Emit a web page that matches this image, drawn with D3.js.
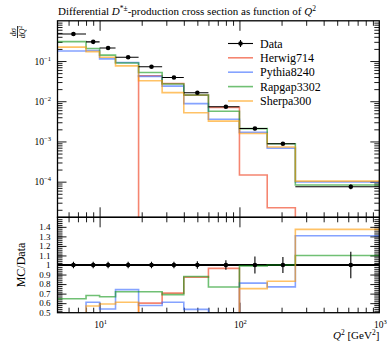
<!DOCTYPE html>
<html><head><meta charset="utf-8">
<script src="https://cdn.jsdelivr.net/npm/d3@7/dist/d3.min.js"></script>
<style>
body{margin:0;background:#fff}
svg{display:block}
text{font-family:"Liberation Serif","DejaVu Serif",serif;fill:#000}
</style>
</head><body>
<svg id="c" width="387" height="343"></svg>
<script>
// ---------- data ----------
const binEdges   = [5, 8, 10, 13, 19, 28, 40, 60, 100, 158, 251, 1000];
const dataValues = [0.47, 0.30, 0.21, 0.124, 0.072, 0.039, 0.0163, 0.0073, 0.0021, 0.00088, 0.000075];
const dataRelErr = [0.035, 0.035, 0.035, 0.035, 0.035, 0.035, 0.04, 0.05, 0.09, 0.085, 0.14];
const herwig714  = [0, 0, 0, 0, 0.0432, 0.0275, 0.0142, 0.00704, 0.000146, 0.0000224, 0];
const pythia8240 = [0.178, 0.183, 0.113, 0.092, 0.0414, 0.0238, 0.00872, 0.00355, 0.0017, 0.000678, 0.000098];
const rapgap3302 = [0.304, 0.204, 0.140, 0.0893, 0.0518, 0.0269, 0.01434, 0.00562, 0.00208, 0.00088, 0.0000825];
const sherpa300  = [0.221, 0.171, 0.124, 0.0756, 0.0324, 0.0164, 0.00518, 0.00321, 0.00158, 0.00073, 0.000103];
const seriesNames = ["Herwig714", "Pythia8240", "Rapgap3302", "Sherpa300"];
const seriesColors = ["#EE3311", "#3366FF", "#109618", "#FF9900"];
const seriesValues = [herwig714, pythia8240, rapgap3302, sherpa300];
const xMajorTicks = [10, 100, 1000];
const yMajorTicks = [1e-4, 1e-3, 1e-2, 1e-1];
const ratioTicks = [0.5, 0.6, 0.7, 0.8, 0.9, 1, 1.1, 1.2, 1.3, 1.4];
const ratioLabels = ["0.5", "0.6", "0.7", "0.8", "0.9", "1", "1.1", "1.2", "1.3", "1.4"];

// ---------- layout ----------
const L = 57.5, R = 379.3, T = 20.8, MB = 217.3, RB = 312.7;
const svg = d3.select("#c");
const x = d3.scaleLog().domain([5, 1000]).range([L, R]);
const y = d3.scaleLog().domain([1.3e-5, 1]).range([MB, T]);
const yr = d3.scaleLinear().domain([0.5, 1.5]).range([RB, MB]);

const defs = svg.append("defs");
defs.append("clipPath").attr("id", "cm").append("rect")
  .attr("x", L).attr("y", T).attr("width", R - L).attr("height", MB - T);
defs.append("clipPath").attr("id", "cr").append("rect")
  .attr("x", L).attr("y", MB).attr("width", R - L).attr("height", RB - MB);

// minor tick values
const xMinor = [];
[1, 10, 100].forEach(d => { for (let k = 2; k <= 9; k++) { const v = k * d; if (v > 5 && v < 1000 && v !== 10 && v !== 100) xMinor.push(v); } });
const yMinor = [];
for (let e = -5; e <= -1; e++) for (let k = 2; k <= 9; k++) { const v = k * Math.pow(10, e); if (v > 1.3e-5 && v < 1) yMinor.push(v); }
const rMinor = d3.range(0.5, 1.5001, 0.02).map(v => +v.toFixed(2));

function ticks(axisFn, scale, vals, len, tx, ty) {
  const g = svg.append("g").attr("transform", `translate(${tx},${ty})`)
    .call(axisFn(scale).tickValues(vals).tickSize(-len).tickFormat(""));
  g.select(".domain").remove();
  g.selectAll(".tick line").attr("stroke", "#000").attr("stroke-width", 0.9);
}
// x ticks on all panel edges
[[d3.axisTop, T], [d3.axisBottom, MB], [d3.axisTop, MB], [d3.axisBottom, RB]].forEach(([f, yy]) => {
  ticks(f, x, xMinor, 5, 0, yy);
  ticks(f, x, xMajorTicks.filter(v => v < 1000), 10, 0, yy);
});
// y ticks main
[[d3.axisLeft, L], [d3.axisRight, R]].forEach(([f, xx]) => {
  ticks(f, y, yMinor, 5, xx, 0);
  ticks(f, y, yMajorTicks, 9, xx, 0);
  ticks(f, yr, rMinor.filter(v => v > 0.5 && v < 1.5), 5, xx, 0);
  ticks(f, yr, ratioTicks.filter(v => v > 0.5), 9, xx, 0);
});

// ---------- histograms ----------
function histPath(vals, yf, base) {
  let p = "";
  vals.forEach((v, i) => {
    const yy = (v > 0 && isFinite(v)) ? yf(v) : base;
    p += (i === 0 ? "M" : "L") + x(binEdges[i]) + "," + yy + "L" + x(binEdges[i + 1]) + "," + yy;
  });
  return p;
}
const gm = svg.append("g").attr("clip-path", "url(#cm)");
const gr = svg.append("g").attr("clip-path", "url(#cr)");

// data ratio line at 1
gr.append("line").attr("x1", L).attr("x2", R).attr("y1", yr(1)).attr("y2", yr(1))
  .attr("stroke", "#000").attr("stroke-width", 1.8);

seriesValues.forEach((vals, s) => {
  gm.append("path").attr("d", histPath(vals, y, MB + 20))
    .attr("fill", "none").attr("stroke", seriesColors[s]).attr("stroke-opacity", 0.6).attr("stroke-width", 1.6);
  const ratio = vals.map((v, i) => v / dataValues[i]);
  gr.append("path").attr("d", histPath(ratio, yr, RB + 40))
    .attr("fill", "none").attr("stroke", seriesColors[s]).attr("stroke-opacity", 0.6).attr("stroke-width", 1.6);
});

// data points main
dataValues.forEach((v, i) => {
  const cx = x((binEdges[i] + binEdges[i + 1]) / 2);
  gm.append("line").attr("x1", x(binEdges[i])).attr("x2", x(binEdges[i + 1]))
    .attr("y1", y(v)).attr("y2", y(v)).attr("stroke", "#000").attr("stroke-width", 1.1);
  gm.append("line").attr("x1", cx).attr("x2", cx)
    .attr("y1", y(v * (1 + dataRelErr[i]))).attr("y2", y(v * (1 - dataRelErr[i])))
    .attr("stroke", "#000").attr("stroke-width", 1.1);
  gm.append("circle").attr("cx", cx).attr("cy", y(v)).attr("r", 2.3).attr("fill", "#000");
  // ratio
  gr.append("line").attr("x1", cx).attr("x2", cx)
    .attr("y1", yr(1 + dataRelErr[i])).attr("y2", yr(1 - dataRelErr[i]))
    .attr("stroke", "#000").attr("stroke-width", 1.1);
  gr.append("circle").attr("cx", cx).attr("cy", yr(1)).attr("r", 2.3).attr("fill", "#000");
});

// frames
svg.append("rect").attr("x", L).attr("y", T).attr("width", R - L).attr("height", MB - T)
  .attr("fill", "none").attr("stroke", "#000").attr("stroke-width", 1.3);
svg.append("rect").attr("x", L).attr("y", MB).attr("width", R - L).attr("height", RB - MB)
  .attr("fill", "none").attr("stroke", "#000").attr("stroke-width", 1.3);

// ---------- labels ----------
const exps = { "-1": "\u22121", "-2": "\u22122", "-3": "\u22123", "-4": "\u22124", "1": "1", "2": "2", "3": "3" };
yMajorTicks.forEach(v => {
  const e = Math.round(Math.log10(v));
  const t = svg.append("text").attr("x", 51).attr("y", y(v) + 3.5).attr("text-anchor", "end")
    .attr("font-size", 9.5);
  t.append("tspan").text("10");
  t.append("tspan").attr("dy", -4).attr("font-size", 6.5).text(exps[String(e)]);
});
ratioTicks.forEach((v, i) => {
  svg.append("text").attr("x", 50.5).attr("y", yr(v) + 3.2).attr("text-anchor", "end")
    .attr("font-size", 9).text(ratioLabels[i]);
});
xMajorTicks.forEach(v => {
  const e = Math.round(Math.log10(v));
  const t = svg.append("text").attr("x", x(v) + 1).attr("y", 327.5).attr("text-anchor", "middle")
    .attr("font-size", 9.5);
  t.append("tspan").text("10");
  t.append("tspan").attr("dy", -4).attr("font-size", 6.5).text(exps[String(e)]);
});

// x label
const xl = svg.append("text").attr("x", R).attr("y", 339).attr("text-anchor", "end").attr("font-size", 11);
xl.append("tspan").attr("font-style", "italic").text("Q");
xl.append("tspan").attr("dy", -4).attr("font-size", 7.5).text("2");
xl.append("tspan").attr("dy", 4).text(" [GeV");
xl.append("tspan").attr("dy", -4).attr("font-size", 7.5).text("2");
xl.append("tspan").attr("dy", 4).text("]");

// ratio y label
svg.append("text").attr("transform", "translate(25,265) rotate(-90)").attr("text-anchor", "middle")
  .attr("font-size", 12).text("MC/Data");

// main y label (fraction)
const yl = svg.append("g").attr("transform", "translate(17.5,32) rotate(-90)");
yl.append("text").attr("x", 0).attr("y", -2).attr("text-anchor", "middle").attr("font-size", 8)
  .text("d\u03c3");
yl.append("line").attr("x1", -6).attr("x2", 6).attr("y1", 0).attr("y2", 0).attr("stroke", "#000").attr("stroke-width", 0.8);
const dn = yl.append("text").attr("x", 0).attr("y", 7.5).attr("text-anchor", "middle").attr("font-size", 8);
dn.append("tspan").text("d");
dn.append("tspan").attr("font-style", "italic").text("Q");
dn.append("tspan").attr("dy", -3).attr("font-size", 5.5).text("2");

// title
const tt = svg.append("text").attr("x", 58).attr("y", 14.5).attr("font-size", 11);
tt.append("tspan").text("Differential ");
tt.append("tspan").attr("font-style", "italic").text("D");
tt.append("tspan").attr("dy", -4).attr("font-size", 7.5).text("*\u00b1");
tt.append("tspan").attr("dy", 4).text("-production cross section as function of ");
tt.append("tspan").attr("font-style", "italic").text("Q");
tt.append("tspan").attr("dy", -4).attr("font-size", 7.5).text("2");

// ---------- legend ----------
const legRows = [43.5, 57.8, 72.2, 86.6, 101];
const lx1 = 228, lx2 = 253, ltx = 260;
svg.append("line").attr("x1", lx1).attr("x2", lx2).attr("y1", legRows[0]).attr("y2", legRows[0])
  .attr("stroke", "#000").attr("stroke-width", 1.1);
svg.append("line").attr("x1", (lx1 + lx2) / 2).attr("x2", (lx1 + lx2) / 2).attr("y1", legRows[0] - 3.5).attr("y2", legRows[0] + 3.5)
  .attr("stroke", "#000").attr("stroke-width", 1.1);
svg.append("circle").attr("cx", (lx1 + lx2) / 2).attr("cy", legRows[0]).attr("r", 2.3).attr("fill", "#000");
svg.append("text").attr("x", ltx).attr("y", legRows[0] + 4).attr("font-size", 12).text("Data");
seriesNames.forEach((n, s) => {
  const yy = legRows[s + 1];
  svg.append("line").attr("x1", lx1).attr("x2", lx2).attr("y1", yy).attr("y2", yy)
    .attr("stroke", seriesColors[s]).attr("stroke-opacity", 0.6).attr("stroke-width", 1.6);
  svg.append("text").attr("x", ltx).attr("y", yy + 4).attr("font-size", 12).text(n);
});
</script>
</body></html>
